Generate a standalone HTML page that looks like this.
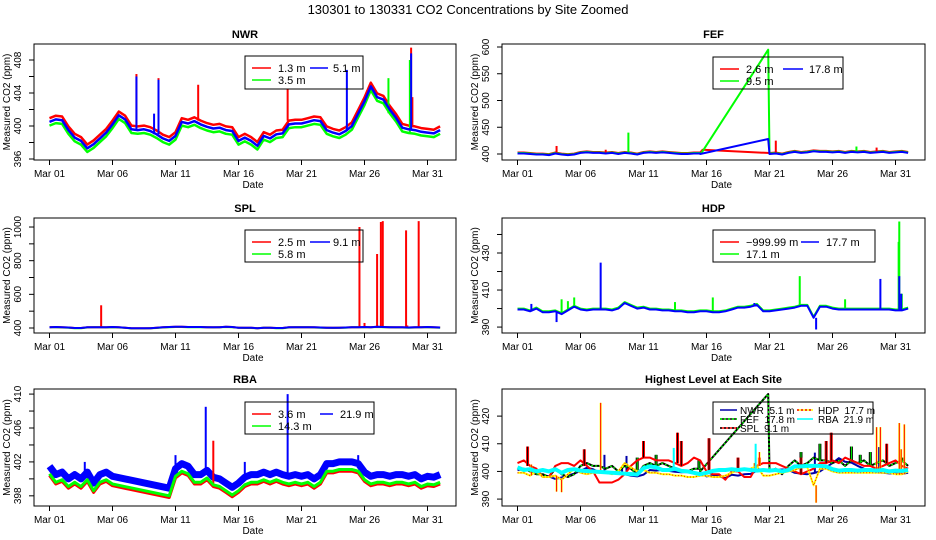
<!DOCTYPE html>
<html><head><meta charset="utf-8">
<style>
html,body{margin:0;padding:0;background:#fff;}
svg{display:block;font-family:"Liberation Sans",Arial,sans-serif;}
text{fill:#000;}
</style></head>
<body>
<svg id="chart" width="936" height="540" viewBox="0 0 936 540" xmlns="http://www.w3.org/2000/svg">
<rect x="0" y="0" width="936" height="540" fill="#fff"/>
<text x="468" y="14" text-anchor="middle" font-size="13">130301  to  130331 CO2 Concentrations by Site Zoomed</text>
</svg>
<script>
// ---------- data ----------
const dateTicks = [0,5,10,15,20,25,30];
const dateLabels = ["Mar 01","Mar 06","Mar 11","Mar 16","Mar 21","Mar 26","Mar 31"];

// NWR (5.1 m base series, half-day samples)
const nwrBlue = [400.5,400.8,400.7,399.5,398.6,398.2,397.3,397.8,398.5,399.2,
 400.2,401.3,400.8,399.6,399.5,399.6,399.4,399.0,398.5,398.2,
 398.8,400.5,400.3,400.6,400.2,399.9,399.7,399.8,399.5,399.4,
 398.2,398.6,398.2,397.6,398.8,398.5,399.0,399.1,400.2,400.3,
 400.3,400.5,400.7,400.6,399.5,399.2,399.0,399.4,400.0,401.5,
 403.0,404.8,403.5,403.2,402.0,401.0,399.8,399.6,399.5,399.3,
 399.2,399.1,399.5];
const nwrRedOffset = 0.45, nwrGreenOffset = -0.45;
const nwrRedSpikes = [[6.9,406.3],[8.65,405.8],[11.8,405],[18.9,404.5],[26.5,403.5],[28.7,409.5],[28.8,403.5]];
const nwrBlueSpikes = [[6.9,406],[8.65,405.6],[23.6,406.8],[28.7,408.8],[8.3,401.5]];
const nwrGreenSpikes = [[26.9,405.8],[28.6,408]];

// FEF
const fefBlue = [401,401,400,399,399,398,401,399,398,399,402,403,402,402,401,402,400,402,401,399,
 402,403,402,403,402,401,400,400,401,401,
 null,null,null,null,null,null,null,null,null,null,
 400,401,399,402,404,402,403,405,404,404,403,404,402,404,403,404,402,403,404,402,403,404,402];
const fefRedOffset = 1.8, fefGreenOffset = 0.9;
const fefBlueGap = [[14.5,400],[19.9,428]];
const fefRedGap = [[14.7,408],[19.8,402]];
const fefGreenGap = [[14.6,402],[19.9,595]];
const fefGreenSpikes = [[8.8,440],[26.9,414]];
const fefRedSpikes = [[3.1,415],[20.5,425],[28.5,412],[7.0,408]];

// SPL
const splBlue = [405,406,404,403,400,400,404,405,405,404,406,404,402,398,398,398,399,401,404,406,
 407,407,406,406,406,405,404,405,407,406,402,401,401,399,402,402,400,400,404,405,
 405,405,404,403,402,401,402,403,405,405,406,405,407,406,405,404,404,403,404,405,406,404,403];
const splRedOffset = 0, splGreenOffset = -1;
const splRedSpikes = [[4.1,535],[24.6,1000],[25.0,430],[26.0,840],[26.3,1030],[26.45,1035],[28.3,980],[29.3,1035],[28.4,415]];

// HDP
const hdpBlue = [399.5,399.5,398.5,400,398,398,398.5,397,399,401,399.5,399,399.5,399.5,399.5,399,400,403,401.5,400,
 400.5,399.5,399.5,399,399,398.5,398.5,398,398,398.5,398.5,398,398,398.5,399.5,400.5,400.5,401,402,398.5,
 398.5,399,399.5,400,400.5,401.5,401.5,395,401,401,400,399.5,399.5,399.5,399.5,399.5,399.5,399.5,399.5,399.5,399,399,400];
const hdpGreenOffset = 0.5;
const hdpBlueSpikes = [[1.1,402.5],[3.1,392.7],[6.6,424.8],[8.6,403],[18.8,403],[23.7,388.7],[28.8,416],[30.3,417.5],[30.45,408]];
const hdpGreenSpikes = [[3.5,405],[4.0,404],[4.5,406],[12.5,403.5],[15.5,406],[22.4,417.5],[26.0,405],[30.3,447],[30.25,436],[30.5,408]];

// RBA
const rbaBlue = [401.5,400.5,400.8,400,400.5,400,400.8,399.5,400.5,400.8,400.3,
 null,null,null,null,null,null,null,null,398.9,
 401.2,401.8,401.5,400.5,400.5,401,400.2,400,399.5,399,399.5,400.2,400.5,400.5,400.8,400.5,400.8,400.5,400.3,400.5,
 400.3,400.5,400,400.5,401.8,401.8,402,402,402,401.8,400.8,400.3,400.5,400.5,400.3,400.5,400.5,400.3,400.5,400,400.3,400.2,400.5];
const rbaRedOffset = -1.1, rbaGreenOffset = -0.9;
const rbaBlueSpikes = [[12.4,408.5],[18.9,410],[10.0,402.8],[24.5,402.8],[2.8,402],[15.5,402]];
const rbaRedSpikes = [[13.0,404.5]];

// Highest level panel extra spikes
const hiSplSpikes = [[0.8,409],[5.3,408],[10.0,411],[12.7,414],[13.0,411],[15.2,412],[17.5,405],[19.2,405],[22.5,405],[24.5,411],[24.9,414],[29.3,410],[26.5,404]];
const hiFefSpikes = [[9.5,405],[11.0,406],[14.4,404],[22.5,407],[24.0,410],[26.5,409],[27.2,406],[28.0,407],[30.5,405]];
const hiHdpSpikes = [[3.5,392.5],[28.5,416],[30.7,417],[19.2,407]];
const hiRbaSpikes = [[12.4,408.5],[18.9,410]];

// ---------- drawing ----------
const NS = 'http://www.w3.org/2000/svg';
const svg = document.getElementById('chart');
const halfDays = Array.from({length:63},(_,i)=>i/2);
function mk(tag, attrs, parent){
  const e = document.createElementNS(NS, tag);
  for (const k in attrs) e.setAttribute(k, attrs[k]);
  (parent||svg).appendChild(e);
  return e;
}
let clipId = 0;
function panel(p){
  const g = mk('g',{});
  
  
  const xs = d => p.x0 + 15.5 + d*12.6;
  const ys = v => p.y1 - (v - p.lo)/(p.hi - p.lo)*(p.y1 - p.y0);
  const cid = 'clip' + (clipId++);
  const cp = mk('clipPath',{id:cid}, g);
  mk('rect',{x:p.x0,y:p.y0,width:p.x1-p.x0,height:p.y1-p.y0}, cp);
  const plot = mk('g',{'clip-path':'url(#'+cid+')'}, g);
  
  
  const t = mk('text',{x:(p.x0+p.x1)/2, y:p.y0-6, 'text-anchor':'middle','font-size':11,'font-weight':'bold'}, g);
  t.textContent = p.title;
  
  
  dateTicks.forEach((d,i)=>{
    const tk = mk('line',{x1:xs(d),x2:xs(d),y1:p.y1,y2:p.y1+5,stroke:'#000','stroke-width':1}, g);
    
    
    const tl = mk('text',{x:xs(d),y:p.y1+17,'text-anchor':'middle','font-size':10}, g);
    tl.textContent = dateLabels[i];
    
    
  });
  const xt = mk('text',{x:(p.x0+p.x1)/2+8,y:p.y1+28,'text-anchor':'middle','font-size':10}, g);
  xt.textContent = 'Date';
  
  
  const ax = mk('line',{x1:p.x0,x2:p.x0,y1:ys(p.ticks[0]),y2:ys(p.ticks[p.ticks.length-1]),stroke:'#000'}, g);
  
  
  p.ticks.forEach(v=>{
    const tk = mk('line',{x1:p.x0-5,x2:p.x0,y1:ys(v),y2:ys(v),stroke:'#000'}, g);
    
    
  });
  p.labels.forEach(v=>{
    const lx = p.x0-13, ly = ys(v);
    const tl = mk('text',{x:lx,y:ly,'text-anchor':'middle','font-size':10,transform:'rotate(-90 '+lx+' '+ly+')'}, g);
    tl.textContent = String(v);
    
    
  });
  const yx = p.x0-24, yy = (p.y0+p.y1)/2;
  const yt = mk('text',{x:yx,y:yy,'text-anchor':'middle','font-size':10,transform:'rotate(-90 '+yx+' '+yy+')'}, g);
  yt.textContent = 'Measured CO2 (ppm)';
  
  
  const box = mk('rect',{x:p.x0,y:p.y0,width:p.x1-p.x0,height:p.y1-p.y0,fill:'none',stroke:'#000','stroke-width':1}, g);
  
  
  return {xs, ys, plot, g, p};
}
function series(P, vals, offset, extra, style, name){
  let pts = [];
  vals.forEach((v,i)=>{ if (v !== null) pts.push([halfDays[i], v + offset]); });
  if (extra) pts = pts.concat(extra);
  pts.sort((a,b)=>a[0]-b[0]);
  const d = pts.map((q,i)=>(i?'L':'M')+P.xs(q[0]).toFixed(1)+' '+P.ys(q[1]).toFixed(1)).join(' ');
  const path = mk('path',{d:d,fill:'none',stroke:style.color,'stroke-width':style.width,'stroke-linejoin':'round'}, P.plot);
  if (style.dash) path.setAttribute('stroke-dasharray', style.dash);
  
  
  return pts;
}
function baseAt(vals, offset, day){
  let best = null, bd = 1e9;
  vals.forEach((v,i)=>{ if (v!==null && Math.abs(halfDays[i]-day) < bd){ bd = Math.abs(halfDays[i]-day); best = v+offset; } });
  return best;
}
function spikes(P, vals, offset, list, color, width, name){
  list.forEach(s=>{
    const b = baseAt(vals, offset, s[0]);
    const ln = mk('line',{x1:P.xs(s[0]),x2:P.xs(s[0]),y1:P.ys(b),y2:P.ys(s[1]),stroke:color,'stroke-width':width}, P.plot);
    
    
  });
}
function legend(P, lx, ly, w, h, rowH, fs, entries, name){
  const lg = mk('g',{}, P.g);
  
  
  const r = mk('rect',{x:lx,y:ly,width:w,height:h,fill:'none',stroke:'#000','stroke-width':1}, lg);
  
  
  entries.forEach(e=>{
    const yy = ly + rowH*(e.row+1) - (rowH>10?0:1);
    const ln = mk('line',{x1:lx+e.l1,x2:lx+e.l2,y1:yy,y2:yy,stroke:e.color,'stroke-width':e.width||1.5}, lg);
    if (e.dash) ln.setAttribute('stroke-dasharray', e.dash);
    
    
    if (e.over){
      const o = mk('line',{x1:lx+e.l1,x2:lx+e.l2,y1:yy,y2:yy,stroke:e.over,'stroke-width':1.5,'stroke-dasharray':'2,2'}, lg);
      
      
    }
    const tx = mk('text',{x:lx+e.tx,y:yy+4,'font-size':fs,'xml:space':'preserve'}, lg);
    tx.setAttribute('style','white-space:pre');
    tx.textContent = e.label;
    
    
  });
}
const R='#ff0000', G='#00ff00', B='#0000ff';
const L=[34,456], Rc=[502,925];
const rows=[[44,160],[218,333],[389,506]];

// NWR
const nwr = panel({name:'nwr',title:'NWR',x0:L[0],x1:L[1],y0:rows[0][0],y1:rows[0][1],lo:395.88,hi:409.94,ticks:[396,398,400,402,404,406,408],labels:[396,400,404,408]});
series(nwr, nwrBlue, nwrGreenOffset, null, {color:G,width:2.5}, 'nwr-3.5m-line');
series(nwr, nwrBlue, nwrRedOffset, null, {color:R,width:2.5}, 'nwr-1.3m-line');
spikes(nwr, nwrBlue, nwrRedOffset, nwrRedSpikes, R, 2, 'nwr-1.3m-spike');
spikes(nwr, nwrBlue, nwrGreenOffset, nwrGreenSpikes, G, 2, 'nwr-3.5m-spike');
series(nwr, nwrBlue, 0, null, {color:B,width:2.5}, 'nwr-5.1m-line');
spikes(nwr, nwrBlue, 0, nwrBlueSpikes, B, 2, 'nwr-5.1m-spike');
legend(nwr, 245, 56, 118, 33, 12, 11, [
 {label:'1.3 m',color:R,row:0,l1:7,l2:26,tx:33},
 {label:'3.5 m',color:G,row:1,l1:7,l2:26,tx:33},
 {label:'5.1 m',color:B,row:0,l1:65,l2:83,tx:88}], 'nwr-legend');

// FEF
const fef = panel({name:'fef',title:'FEF',x0:Rc[0],x1:Rc[1],y0:rows[0][0],y1:rows[0][1],lo:388.8,hi:605.6,ticks:[400,450,500,550,600],labels:[400,450,500,550,600]});
series(fef, fefBlue, fefRedOffset, fefRedGap, {color:R,width:2}, 'fef-2.6m-line');
series(fef, fefBlue, fefGreenOffset, fefGreenGap, {color:G,width:2}, 'fef-9.5m-line');
spikes(fef, fefBlue, fefRedOffset, fefRedSpikes, R, 2, 'fef-2.6m-spike');
spikes(fef, fefBlue, fefGreenOffset, fefGreenSpikes, G, 2, 'fef-9.5m-spike');
series(fef, fefBlue, 0, fefBlueGap, {color:B,width:2}, 'fef-17.8m-line');
legend(fef, 713, 57, 130, 32, 12, 11, [
 {label:'2.6 m',color:R,row:0,l1:7,l2:26,tx:33},
 {label:'9.5 m',color:G,row:1,l1:7,l2:26,tx:33},
 {label:'17.8 m',color:B,row:0,l1:70,l2:90,tx:96}], 'fef-legend');

// SPL
const spl = panel({name:'spl',title:'SPL',x0:L[0],x1:L[1],y0:rows[1][0],y1:rows[1][1],lo:370.3,hi:1053.6,ticks:[400,500,600,700,800,900,1000],labels:[400,600,800,1000]});
series(spl, splBlue, splGreenOffset, null, {color:G,width:2}, 'spl-5.8m-line');
series(spl, splBlue, splRedOffset, null, {color:R,width:2}, 'spl-2.5m-line');
spikes(spl, splBlue, splRedOffset, splRedSpikes, R, 2, 'spl-2.5m-spike');
series(spl, splBlue, 0, null, {color:B,width:2}, 'spl-9.1m-line');
legend(spl, 245, 230, 118, 32, 12, 11, [
 {label:'2.5 m',color:R,row:0,l1:7,l2:26,tx:33},
 {label:'5.8 m',color:G,row:1,l1:7,l2:26,tx:33},
 {label:'9.1 m',color:B,row:0,l1:65,l2:85,tx:88}], 'spl-legend');

// HDP
const hdp = panel({name:'hdp',title:'HDP',x0:Rc[0],x1:Rc[1],y0:rows[1][0],y1:rows[1][1],lo:386.8,hi:448.9,ticks:[390,400,410,420,430,440],labels:[390,410,430]});
series(hdp, hdpBlue, hdpGreenOffset, null, {color:G,width:2}, 'hdp-17.1m-line');
spikes(hdp, hdpBlue, hdpGreenOffset, hdpGreenSpikes, G, 2, 'hdp-17.1m-spike');
series(hdp, hdpBlue, 0, null, {color:B,width:2}, 'hdp-17.7m-line');
spikes(hdp, hdpBlue, 0, hdpBlueSpikes, B, 2, 'hdp-17.7m-spike');
legend(hdp, 713, 230, 162, 32, 12, 11, [
 {label:'\u2212999.99 m',color:R,row:0,l1:7,l2:26,tx:33},
 {label:'17.1 m',color:G,row:1,l1:7,l2:26,tx:33},
 {label:'17.7 m',color:B,row:0,l1:88,l2:106,tx:113}], 'hdp-legend');

// RBA
const rba = panel({name:'rba',title:'RBA',x0:L[0],x1:L[1],y0:rows[2][0],y1:rows[2][1],lo:396.8,hi:410.6,ticks:[398,400,402,404,406,408,410],labels:[398,402,406,410]});
series(rba, rbaBlue, 0, null, {color:B,width:7}, 'rba-21.9m-line');
spikes(rba, rbaBlue, 0, rbaBlueSpikes, B, 2, 'rba-21.9m-spike');
series(rba, rbaBlue, rbaRedOffset, null, {color:R,width:3}, 'rba-3.6m-line');
spikes(rba, rbaBlue, rbaRedOffset, rbaRedSpikes, R, 2, 'rba-3.6m-spike');
series(rba, rbaBlue, rbaGreenOffset, null, {color:G,width:3}, 'rba-14.3m-line');
legend(rba, 245, 402, 129, 32, 12, 11, [
 {label:'3.6 m',color:R,row:0,l1:7,l2:26,tx:33},
 {label:'14.3 m',color:G,row:1,l1:7,l2:26,tx:33},
 {label:'21.9 m',color:B,row:0,l1:75,l2:88,tx:95}], 'rba-legend');

// Highest level
const hi = panel({name:'highest',title:'Highest Level at Each Site',x0:Rc[0],x1:Rc[1],y0:rows[2][0],y1:rows[2][1],lo:387.5,hi:429.8,ticks:[390,400,410,420],labels:[390,400,410,420]});
series(hi, nwrBlue, 0, null, {color:'#0000aa',width:2}, 'highest-nwr-line');
spikes(hi, nwrBlue, 0, nwrBlueSpikes, '#0000aa', 2, 'highest-nwr-spike');
series(hi, fefBlue, 0, fefBlueGap, {color:'#000',width:2}, 'highest-fef-line');
spikes(hi, fefBlue, 0, hiFefSpikes, '#000', 3, 'highest-fef-spike');
spikes(hi, fefBlue, 0, hiFefSpikes, G, 1, 'highest-fef-spike-overlay');
series(hi, fefBlue, 0, fefBlueGap, {color:G,width:1.2,dash:'2,2'}, 'highest-fef-overlay');
series(hi, splBlue, -2, null, {color:R,width:2}, 'highest-spl-line');
spikes(hi, splBlue, -2, hiSplSpikes, R, 3, 'highest-spl-spike');
spikes(hi, splBlue, -2, hiSplSpikes, '#000', 1, 'highest-spl-spike-overlay');
series(hi, hdpBlue, 0, null, {color:'#ffff00',width:2}, 'highest-hdp-line');
series(hi, hdpBlue, 0, null, {color:R,width:1,dash:'1,2'}, 'highest-hdp-overlay');
spikes(hi, hdpBlue, 0, hdpBlueSpikes.concat(hiHdpSpikes), '#ffff00', 2, 'highest-hdp-spike');
spikes(hi, hdpBlue, 0, hdpBlueSpikes.concat(hiHdpSpikes), R, 1, 'highest-hdp-spike-overlay');
series(hi, rbaBlue, 0, null, {color:'#00ffff',width:4}, 'highest-rba-line');
spikes(hi, rbaBlue, 0, hiRbaSpikes, '#00ffff', 2, 'highest-rba-spike');
legend(hi, 713, 402, 160, 32, 9, 10, [
 {label:'NWR  5.1 m',color:'#0000aa',row:0,l1:7,l2:24,tx:27},
 {label:'FEF  17.8 m',color:'#000',over:G,row:1,l1:7,l2:24,tx:27},
 {label:'SPL  9.1 m',color:R,over:'#000',row:2,l1:7,l2:24,tx:27},
 {label:'HDP  17.7 m',color:'#ffff00',over:R,row:0,l1:84,l2:100,tx:105},
 {label:'RBA  21.9 m',color:'#00ffff',row:1,l1:84,l2:100,tx:105}], 'highest-legend');
</script>
</body></html>
